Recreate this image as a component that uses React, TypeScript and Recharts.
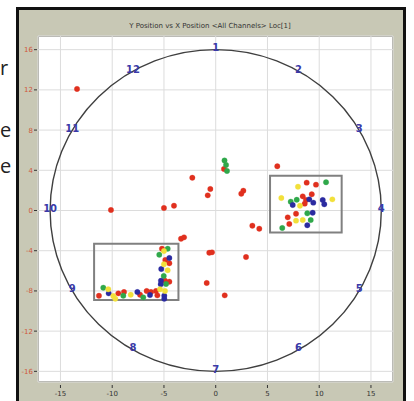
import { ScatterChart, Scatter, XAxis, YAxis, CartesianGrid, ReferenceArea } from 'recharts';

const xTicks = [-15, -10, -5, 0, 5, 10, 15];
const yTicks = [-16, -14, -12, -10, -8, -6, -4, -2, 0, 2, 4, 6, 8, 10, 12, 14, 16];

// clock position labels sitting on the r=16 ring
const clockLabels = [
  { n: '1', x: 0, y: 16 },
  { n: '2', x: 8, y: 13.86 },
  { n: '3', x: 13.86, y: 8 },
  { n: '4', x: 16, y: 0 },
  { n: '5', x: 13.86, y: -8 },
  { n: '6', x: 8, y: -13.86 },
  { n: '7', x: 0, y: -16 },
  { n: '8', x: -8, y: -13.86 },
  { n: '9', x: -13.86, y: -8 },
  { n: '10', x: -16, y: 0 },
  { n: '11', x: -13.86, y: 8 },
  { n: '12', x: -8, y: 13.86 },
];

const redPoints = [
  { x: 0.8, y: 4.13 }, { x: -2.26, y: 3.26 }, { x: -0.52, y: 2.14 }, { x: -0.77, y: 1.51 },
  { x: 2.67, y: 1.97 }, { x: 2.47, y: 1.67 }, { x: -4.03, y: 0.48 }, { x: -5.0, y: 0.25 },
  { x: -10.12, y: 0.05 }, { x: 3.54, y: -1.51 }, { x: 4.21, y: -1.81 }, { x: -3.35, y: -2.81 },
  { x: -3.06, y: -2.67 }, { x: -0.62, y: -4.2 }, { x: -0.36, y: -4.16 }, { x: 2.93, y: -4.63 },
  { x: -0.87, y: -7.21 }, { x: 0.87, y: -8.44 }, { x: -13.4, y: 12.09 }, { x: 5.95, y: 4.4 },
  // lower-left box
  { x: -5.19, y: -3.8 }, { x: -4.87, y: -4.93 }, { x: -4.48, y: -5.25 }, { x: -4.9, y: -6.99 },
  { x: -4.48, y: -7.08 }, { x: -11.28, y: -8.48 }, { x: -9.41, y: -8.24 }, { x: -8.86, y: -8.11 },
  { x: -7.31, y: -8.38 }, { x: -6.67, y: -8.01 }, { x: -6.25, y: -8.11 }, { x: -5.77, y: -8.01 },
  { x: -5.64, y: -8.44 },
  // right box
  { x: 8.79, y: 2.77 }, { x: 9.69, y: 2.57 }, { x: 8.41, y: 1.41 }, { x: 9.28, y: 1.61 },
  { x: 8.72, y: 1.04 }, { x: 8.6, y: 0.68 }, { x: 7.76, y: -0.32 }, { x: 6.96, y: -0.68 },
  { x: 7.11, y: -1.34 },
];

const greenPoints = [
  { x: 0.85, y: 4.98 }, { x: 1.0, y: 4.53 }, { x: 1.09, y: 3.93 },
  { x: -4.64, y: -3.8 }, { x: -5.45, y: -4.4 }, { x: -5.02, y: -6.52 }, { x: -4.8, y: -7.31 },
  { x: -10.86, y: -7.68 }, { x: -8.93, y: -8.48 }, { x: -7.0, y: -8.64 },
  { x: 10.66, y: 2.81 }, { x: 7.25, y: 0.88 }, { x: 7.83, y: 1.07 }, { x: 8.85, y: -0.28 },
  { x: 9.18, y: -0.95 }, { x: 6.43, y: -1.74 },
];

const bluePoints = [
  { x: -4.48, y: -4.73 }, { x: -5.26, y: -5.82 }, { x: -5.29, y: -6.99 }, { x: -5.31, y: -7.34 },
  { x: -10.34, y: -8.24 }, { x: -7.57, y: -8.11 }, { x: -6.35, y: -8.41 }, { x: -4.97, y: -8.48 },
  { x: -4.97, y: -8.78 },
  { x: 9.04, y: 1.11 }, { x: 10.34, y: 1.04 }, { x: 7.44, y: 0.55 }, { x: 9.43, y: 0.78 },
  { x: 10.49, y: 0.62 }, { x: 9.37, y: -0.22 }, { x: 8.85, y: -1.47 },
];

const yellowPoints = [
  { x: -5.0, y: -4.03 }, { x: -5.0, y: -5.35 }, { x: -4.64, y: -5.95 }, { x: -5.38, y: -7.84 },
  { x: -10.38, y: -7.84 }, { x: -9.89, y: -8.51 }, { x: -9.7, y: -8.78 }, { x: -8.21, y: -8.38 },
  { x: -4.9, y: -8.01 },
  { x: 7.95, y: 2.37 }, { x: 6.34, y: 1.24 }, { x: 11.27, y: 1.11 }, { x: 8.14, y: 0.48 },
  { x: 7.76, y: -1.01 }, { x: 8.41, y: -0.95 },
];

const font = '"DejaVu Sans", sans-serif';

const dot = (color: string) => (p: any) => (
  <circle cx={p.cx} cy={p.cy} r={2.7} fill={color} stroke={color} strokeOpacity={0.6} strokeWidth={0.5} />
);

const ClockLabel = (p: any) => (
  <text x={p.cx} y={p.cy + 1.5} textAnchor="middle" fontSize={10} fontWeight="bold" fill="#3a3aa8" fontFamily={font}>
    {p.payload.n}
  </text>
);

const XTick = (p: any) => (
  <g>
    <line x1={p.x} x2={p.x} y1={p.y + 3} y2={p.y + 6} stroke="#333" />
    <text x={p.x} y={p.y + 14} textAnchor="middle" fontSize={7} fill="#333" fontFamily={font}>
      {p.payload.value}
    </text>
  </g>
);

const YTick = (p: any) => (
  <g>
    <line x1={p.x - 4} x2={p.x - 1} y1={p.y} y2={p.y} stroke="#333" />
    <text x={p.x - 5} y={p.y + 2.5} textAnchor="end" fontSize={7} fill="#d0583a" fontFamily={font}>
      {p.payload.value}
    </text>
  </g>
);

const Ring = (p: any) => (
  <ellipse
    cx={p.x + p.width / 2}
    cy={p.y + p.height / 2}
    rx={p.width / 2}
    ry={p.height / 2}
    fill="none"
    stroke="#3f3f3f"
    strokeWidth={1.4}
  />
);

const sideText = { position: 'absolute' as const, left: 0, fontSize: 20, fontFamily: '"Open Sans", sans-serif', color: '#222', lineHeight: 1 };

export default function App() {
  return (
    <div style={{ position: 'absolute', left: 0, top: 0, width: 414, height: 401, overflow: 'hidden', background: '#fff' }}>
      <div style={{ ...sideText, top: 58 }}>r</div>
      <div style={{ ...sideText, top: 120 }}>e</div>
      <div style={{ ...sideText, top: 156 }}>e</div>
      <div
        style={{
          position: 'absolute', left: 16, top: 7, width: 384, height: 400,
          borderLeft: '3px solid #111', borderTop: '3px solid #111', borderRight: '3px solid #111',
          background: '#c8c8b5',
        }}
      />
      <div style={{ position: 'absolute', left: 38, top: 36, width: 353, height: 344, background: '#fff', border: '1px solid #9a9a90' }} />
      <div style={{ position: 'absolute', left: 0, top: 22, width: 420, textAlign: 'center', fontSize: 7, fontFamily: font, color: '#333' }}>
        Y Position vs X Position &lt;All Channels&gt; Loc[1]
      </div>
      <div style={{ position: 'absolute', left: 0, top: 0 }}>
        <ScatterChart width={414} height={401} margin={{ top: 36, right: 21, left: 0, bottom: 0 }}>
          <CartesianGrid stroke="#dcdcdc" />
          <XAxis
            type="number"
            dataKey="x"
            domain={[-17.17, 17.13]}
            ticks={xTicks}
            height={19}
            tickSize={0}
            tickMargin={0}
            axisLine={false}
            tickLine={false}
            tick={<XTick />}
            allowDataOverflow
          />
          <YAxis
            type="number"
            dataKey="y"
            domain={[-17.06, 17.36]}
            ticks={yTicks}
            width={38}
            tickSize={0}
            tickMargin={0}
            axisLine={false}
            tickLine={false}
            tick={<YTick />}
            allowDataOverflow
          />
          <ReferenceArea x1={-16} x2={16} y1={-16} y2={16} shape={<Ring />} />
          <ReferenceArea x1={-11.75} x2={-3.6} y1={-8.9} y2={-3.3} fill="none" stroke="#808080" strokeWidth={2} fillOpacity={0} />
          <ReferenceArea x1={5.25} x2={12.17} y1={-2.2} y2={3.46} fill="none" stroke="#808080" strokeWidth={2} fillOpacity={0} />
          <Scatter data={clockLabels} shape={ClockLabel} isAnimationActive={false} />
          <Scatter data={redPoints} shape={dot('#e0301e')} isAnimationActive={false} />
          <Scatter data={greenPoints} shape={dot('#2fa84a')} isAnimationActive={false} />
          <Scatter data={bluePoints} shape={dot('#2a2aa0')} isAnimationActive={false} />
          <Scatter data={yellowPoints} shape={dot('#f2e03a')} isAnimationActive={false} />
        </ScatterChart>
      </div>
    </div>
  );
}
